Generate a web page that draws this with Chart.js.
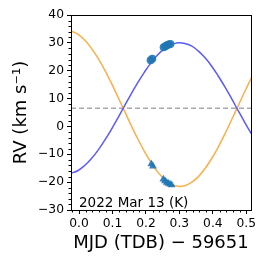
<!DOCTYPE html>
<html>
<head>
<meta charset="utf-8">
<script src="https://cdn.jsdelivr.net/npm/chart.js@4.4.1/dist/chart.umd.min.js"></script>
<style>
  html, body { margin: 0; padding: 0; background: #fff; }
  #wrap { width: 266px; height: 266px; }
</style>
</head>
<body>
<div id="wrap"><canvas id="rv" width="266" height="266"></canvas></div>
<script>
// model curves
const modelT = [-0.024, -0.004, 0.016, 0.036, 0.056, 0.076, 0.096, 0.116, 0.136, 0.156,
  0.176, 0.196, 0.216, 0.236, 0.256, 0.276, 0.296, 0.316, 0.336, 0.356,
  0.376, 0.396, 0.416, 0.436, 0.456, 0.476, 0.496, 0.516];
const primaryRV = [-16.8, -15.9, -14.1, -11.7, -8.7, -5.1, -1.2, 3.0, 7.4, 11.7,
  15.8, 19.6, 23.0, 25.8, 27.9, 29.3, 30.0, 29.8, 28.9, 27.1,
  24.7, 21.7, 18.1, 14.2, 10.0, 5.6, 1.3, -2.8];
const secondaryRV = [34.3, 33.1, 31.1, 28.2, 24.6, 20.4, 15.7, 10.6, 5.5, 0.3,
  -4.6, -9.1, -13.1, -16.5, -19.0, -20.7, -21.5, -21.3, -20.1, -18.1,
  -15.2, -11.6, -7.4, -2.7, 2.4, 7.5, 12.7, 17.6];

// observations
const obsPrimT = [0.214, 0.219, 0.253, 0.258, 0.263, 0.268, 0.273];
const obsPrimRV = [23.8, 24.3, 28.4, 28.8, 29.1, 29.4, 29.6];
const obsSecT = [0.216, 0.221, 0.252, 0.257, 0.262, 0.267, 0.272, 0.277];
const obsSecRV = [-13.5, -14.3, -19.0, -19.6, -20.1, -20.5, -20.8, -21.0];

const gammaRV = 6.5;
const xRange = [-0.024, 0.514];
const yRange = [-30, 40];
const xTicks = [0.0, 0.1, 0.2, 0.3, 0.4, 0.5];
const yTicks = [-30, -20, -10, 0, 10, 20, 30, 40];
const nightLabel = '2022 Mar 13 (K)';

const FONT = 'DejaVu Sans';
const pts = (xs, ys) => xs.map((x, i) => ({ x: x, y: ys[i] }));

const frameAndMinor = {
  id: 'frameAndMinor',
  afterDraw(chart) {
    const { ctx, chartArea: a, scales: { x, y } } = chart;
    ctx.save();
    ctx.strokeStyle = '#000';
    ctx.lineWidth = 1;
    ctx.beginPath();
    // minor ticks, 5 subdivisions per major step
    for (let v = yRange[0]; v <= yRange[1] + 1e-9; v += 2) {
      if (Math.abs(v % 10) < 1e-6) continue;
      const py = Math.round(y.getPixelForValue(v)) + 0.5;
      ctx.moveTo(a.left - 2.5, py); ctx.lineTo(a.left, py);
    }
    for (let i = -1; i <= 26; i++) {
      const v = i * 0.02;
      if (i % 5 === 0 || v < xRange[0] || v > xRange[1]) continue;
      const px = Math.round(x.getPixelForValue(v)) + 0.5;
      ctx.moveTo(px, a.bottom); ctx.lineTo(px, a.bottom + 2.5);
    }
    ctx.stroke();
    ctx.strokeRect(Math.round(a.left) + 0.5, Math.round(a.top) + 0.5,
      Math.round(a.right - a.left), Math.round(a.bottom - a.top));
    ctx.fillStyle = '#000';
    ctx.font = '13.5px "' + FONT + '"';
    ctx.textBaseline = 'alphabetic';
    ctx.textAlign = 'left';
    ctx.fillText(nightLabel, a.left + 8, a.bottom - 3);
    ctx.restore();
  }
};

new Chart(document.getElementById('rv'), {
  type: 'scatter',
  data: {
    datasets: [
      { data: pts(obsPrimT, obsPrimRV), pointStyle: 'circle', pointRadius: 4,
        backgroundColor: 'rgba(31,119,180,0.9)', borderColor: 'rgba(31,119,180,0.9)', borderWidth: 0, order: 0 },
      { data: pts(obsSecT, obsSecRV), pointStyle: 'triangle', pointRadius: 4.5,
        backgroundColor: 'rgba(31,119,180,0.9)', borderColor: 'rgba(31,119,180,0.9)', borderWidth: 0, order: 0 },
      { data: pts(modelT, primaryRV), showLine: true, pointRadius: 0, borderColor: '#5a5aff',
        borderWidth: 1.5, tension: 0.4, order: 1 },
      { data: pts(modelT, secondaryRV), showLine: true, pointRadius: 0, borderColor: '#ffae4a',
        borderWidth: 1.5, tension: 0.4, order: 1 },
      { data: pts(xRange, [gammaRV, gammaRV]), showLine: true, pointRadius: 0, borderColor: '#aaaaaa',
        borderWidth: 1.5, borderDash: [5, 3], order: 2 }
    ]
  },
  options: {
    responsive: false,
    animation: false,
    events: [],
    layout: { padding: { top: 15, right: 15, left: 0, bottom: 0 } },
    plugins: { legend: { display: false }, tooltip: { enabled: false } },
    scales: {
      x: {
        type: 'linear', min: xRange[0], max: xRange[1],
        afterBuildTicks: s => { s.ticks = xTicks.map(v => ({ value: v })); },
        afterFit: s => { s.height = 56; },
        ticks: { color: '#000', padding: 2, maxRotation: 0, font: { family: FONT, size: 12.3 },
          callback: v => v.toFixed(1) },
        grid: { drawOnChartArea: false, drawTicks: true, tickLength: 4, color: '#000' },
        border: { display: false },
        title: { display: true, text: 'MJD (TDB) \u2212 59651', color: '#000', padding: 12,
          font: { family: FONT, size: 18 } }
      },
      y: {
        type: 'linear', min: yRange[0], max: yRange[1],
        afterBuildTicks: s => { s.ticks = yTicks.map(v => ({ value: v })); },
        afterFit: s => { s.width = 71; },
        ticks: { color: '#000', padding: 3, font: { family: FONT, size: 12.3 },
          callback: v => (v < 0 ? '\u2212' + Math.abs(v) : String(v)) },
        grid: { drawOnChartArea: false, drawTicks: true, tickLength: 4, color: '#000' },
        border: { display: false },
        title: { display: true, text: 'RV (km s\u207B\u00B9)', color: '#000', padding: 11,
          font: { family: FONT, size: 18 } }
      }
    }
  },
  plugins: [frameAndMinor]
});
</script>
</body>
</html>
